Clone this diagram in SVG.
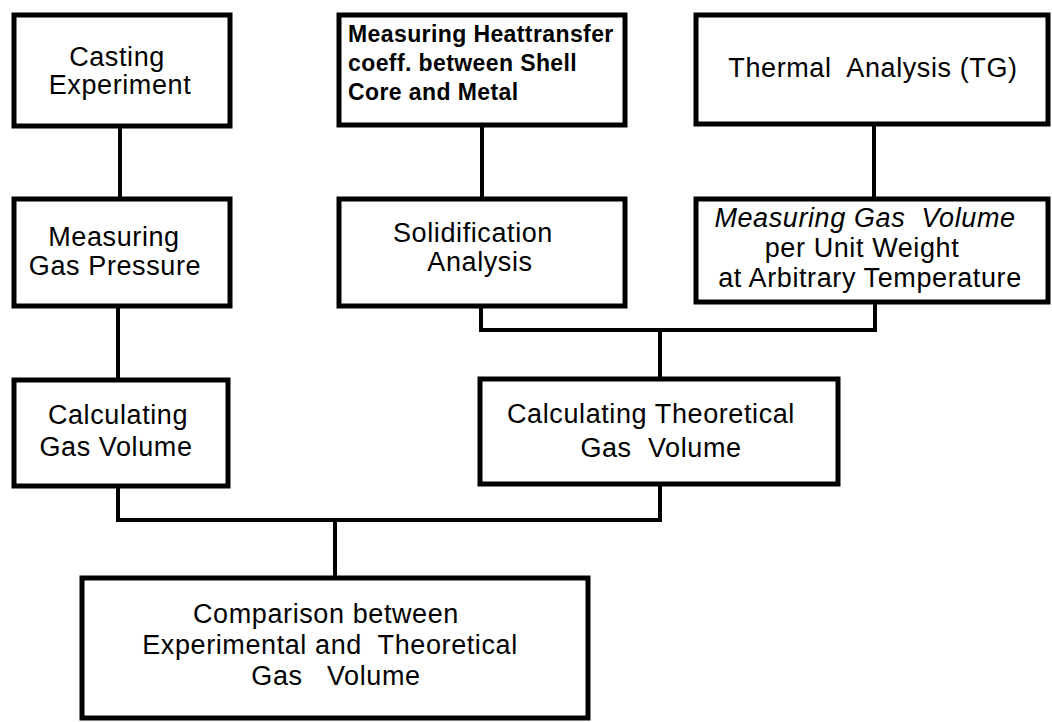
<svg xmlns="http://www.w3.org/2000/svg" width="1052" height="722" viewBox="0 0 1052 722">
<style>
.box{fill:#fff;stroke:#000;stroke-width:5}
.con{fill:none;stroke:#000;stroke-width:4;stroke-linejoin:miter}
text{font-family:"Liberation Sans",Arial,sans-serif;font-size:27px;letter-spacing:0.6px;fill:#000;text-anchor:middle}
.b{font-weight:bold;font-size:23px;letter-spacing:0.4px;text-anchor:start}
.i{font-style:italic}
</style>
<rect width="1052" height="722" fill="#fff"/>
<g id="connectors">
<path class="con" d="M120 126V199"/>
<path class="con" d="M118 306V380"/>
<path class="con" d="M482 125V199"/>
<path class="con" d="M874 124V199"/>
<path class="con" d="M481 306V330H875V302"/>
<path class="con" d="M660 330V379"/>
<path class="con" d="M118 486V520H660V484"/>
<path class="con" d="M335 520V578"/>
</g>
<g id="casting">
<rect class="box" x="14" y="15" width="216" height="111"/>
<text x="117" y="66">Casting</text>
<text x="120" y="94">Experiment</text>
</g>
<g id="heattransfer">
<rect class="box" x="339" y="15" width="286" height="110"/>
<text class="b" x="348" y="42">Measuring Heattransfer</text>
<text class="b" x="348" y="71">coeff. between Shell</text>
<text class="b" x="348" y="100">Core and Metal</text>
</g>
<g id="thermal">
<rect class="box" x="696" y="15" width="352" height="109"/>
<text x="873" y="77" xml:space="preserve">Thermal  Analysis (TG)</text>
</g>
<g id="pressure">
<rect class="box" x="14" y="199" width="216" height="107"/>
<text x="114" y="246">Measuring</text>
<text x="115" y="275">Gas Pressure</text>
</g>
<g id="solidification">
<rect class="box" x="339" y="199" width="286" height="107"/>
<text x="473" y="242">Solidification</text>
<text x="480" y="271">Analysis</text>
</g>
<g id="gasvolume-weight">
<rect class="box" x="696" y="199" width="352" height="103"/>
<text class="i" x="865" y="227" xml:space="preserve">Measuring Gas  Volume</text>
<text x="862" y="257">per Unit Weight</text>
<text x="870" y="287">at Arbitrary Temperature</text>
</g>
<g id="calc-gas">
<rect class="box" x="14" y="380" width="214" height="106"/>
<text x="118" y="424">Calculating</text>
<text x="116" y="456">Gas Volume</text>
</g>
<g id="calc-theoretical">
<rect class="box" x="480" y="379" width="358" height="105"/>
<text x="651" y="423">Calculating Theoretical</text>
<text x="661" y="457" xml:space="preserve">Gas  Volume</text>
</g>
<g id="comparison">
<rect class="box" x="82" y="578" width="506" height="140"/>
<text x="326" y="623">Comparison between</text>
<text x="330" y="654" xml:space="preserve">Experimental and  Theoretical</text>
<text x="336" y="685" xml:space="preserve">Gas   Volume</text>
</g>
</svg>
